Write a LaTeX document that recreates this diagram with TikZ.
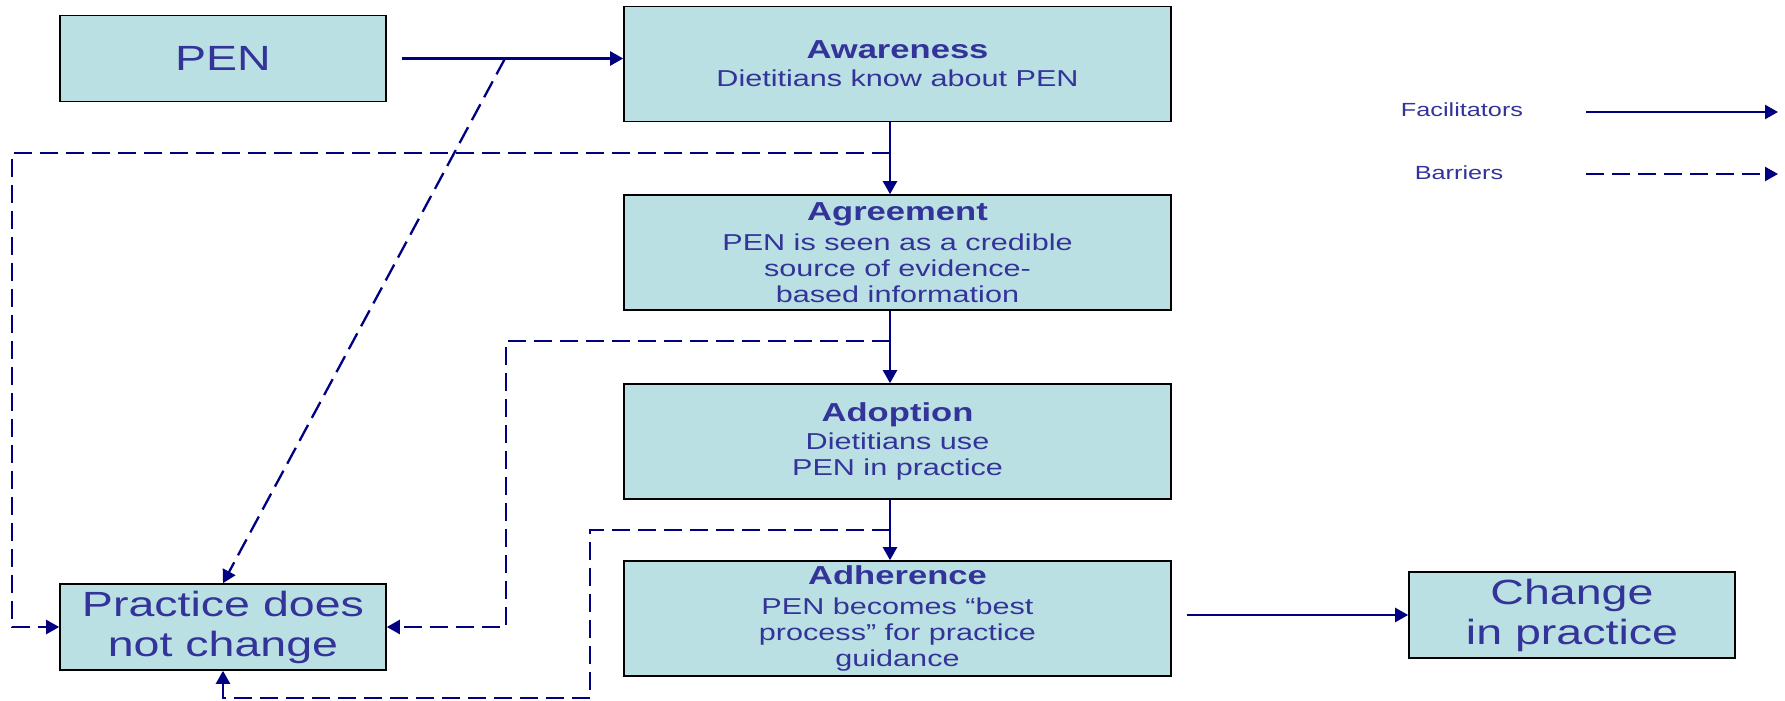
\documentclass[tikz,border=0pt]{standalone}
\usepackage{fontspec}
\setmainfont[FakeStretch=1.33]{Liberation Sans}
\usetikzlibrary{arrows.meta,calc}
\definecolor{boxfill}{RGB}{187,224,227}
\definecolor{penblue}{RGB}{51,51,153}
\definecolor{wire}{RGB}{0,0,128}

\begin{document}
\begin{tikzpicture}[x=0.5pt,y=-0.5pt,
    stage/.style={draw=black,line width=0.8pt,fill=boxfill,text=penblue,inner sep=0pt,align=center,
      minimum width=273.5pt,minimum height=57.5pt,font=\fontsize{11.5}{13}\selectfont},
    endbox/.style={draw=black,line width=0.8pt,fill=boxfill,text=penblue,inner sep=0pt,align=center,
      minimum width=163pt,minimum height=43pt,font=\fontsize{17.5}{20}\selectfont},
    facil/.style={draw=wire,line width=1.15pt,-{Triangle[length=6.5pt,width=7pt]}},
    barr/.style={facil,dash pattern=on 9pt off 4pt},
    legend/.style={text=penblue,font=\fontsize{9.5}{11}\selectfont}]
      \useasboundingbox (0,0) rectangle (1785,701);
      % Boxes:
      \node[endbox] (pen) at (223,58.5){PEN};
      \node[endbox] (pract) at (223,627){Practice does\\not change};
      \node[endbox] (change) at (1572,615){Change\\in practice};
      \node[stage] (aware) at (897.5,64){{\bfseries\fontsize{13}{15}\selectfont Awareness}\\[1pt]Dietitians know about PEN};
      \node[stage] (agree) at (897.5,252.5){{\bfseries\fontsize{13}{15}\selectfont Agreement}\\[2pt]PEN is seen as a credible\\source of evidence-\\based information};
      \node[stage] (adopt) at (897.5,441.5){{\bfseries\fontsize{13}{15}\selectfont Adoption}\\[1pt]Dietitians use\\PEN in practice};
      \node[stage] (adher) at (897.5,618.5){{\bfseries\fontsize{13}{15}\selectfont Adherence}\\[2pt]PEN becomes ``best\\process'' for practice\\guidance};
      % Facilitators:
      \draw[facil,shorten <=7.5pt] (pen.east) -- (pen.east -| aware.west);
      \draw[facil] ([xshift=-3.75pt]aware.south) -- ([xshift=-3.75pt]agree.north);
      \draw[facil] ([xshift=-3.75pt]agree.south) -- ([xshift=-3.75pt]adopt.north);
      \draw[facil] ([xshift=-3.75pt]adopt.south) -- ([xshift=-3.75pt]adher.north);
      \draw[facil,shorten <=7.5pt] (adher.east |- change.west) -- (change.west);
      % Barriers:
      \coordinate (j0) at ($(pen.east)!0.5!(pen.east -| aware.west)$);
      \coordinate (j1) at ($(aware.south)!0.43!(agree.north)+(-7.5,0)$);
      \coordinate (j2) at ($(agree.south)!0.42!(adopt.north)+(-7.5,0)$);
      \coordinate (j3) at ($(adopt.south)!0.5!(adher.north)+(-7.5,0)$);
      \draw[barr] (j0) -- (pract.north);
      \draw[barr] (j1) -| ($(pract.west)+(-47.5,0)$) -- (pract.west);
      \draw[barr] (j2) -| ($(pract.east)+(119,0)$) -- (pract.east);
      \draw[barr] (j3) -| ($(pract.south)+(367,27)$) -| (pract.south);
      % Legend:
      \node[legend] (lfac) at (1462,110){Facilitators};
      \node[legend] (lbar) at (1459,173){Barriers};
      \coordinate (lf0) at (1586,112);
      \coordinate (lf1) at (1778,112);
      \coordinate (lb0) at (1586,174);
      \coordinate (lb1) at (1778,174);
      \draw[facil] (lf0) -- (lf1);
      \draw[barr] (lb0) -- (lb1);
\end{tikzpicture}
\end{document}
